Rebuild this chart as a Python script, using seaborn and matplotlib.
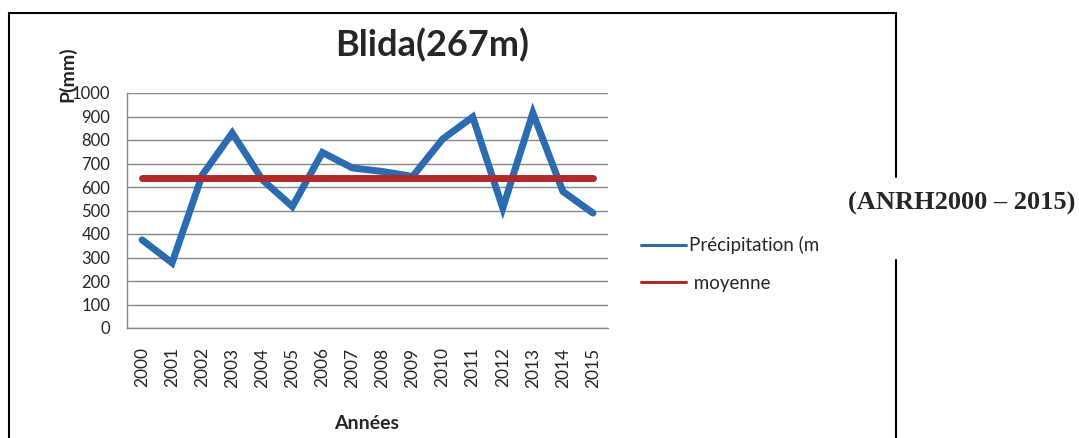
import pandas as pd
import matplotlib
matplotlib.use("Agg")
import matplotlib.pyplot as plt
from matplotlib.lines import Line2D
import seaborn as sns

# données
annees = [str(a) for a in range(2000, 2016)]
precipitation = [375, 277, 650, 830, 631, 517, 747, 681, 666, 645, 804, 898, 510, 915, 581, 489]
moyenne = [638] * 16
yticks = list(range(0, 1001, 100))

df = pd.DataFrame({"Années": annees, "Précipitation": precipitation, "moyenne": moyenne})

sns.set_style("white")
plt.rcParams['font.family'] = ['Lato', 'DejaVu Sans']

W, H = 1079, 438
fig = plt.figure(figsize=(W / 100, H / 100), dpi=100)
ax = fig.add_axes([127 / W, 1 - 328 / H, (608 - 127) / W, (328 - 93) / H])

bleu = '#2b6cb0'
rouge = '#b02a2a'
sns.lineplot(data=df, x="Années", y="Précipitation", ax=ax, color=bleu, lw=5,
             label="Précipitation (m", solid_capstyle='round', solid_joinstyle='miter', sort=False)
sns.lineplot(data=df, x="Années", y="moyenne", ax=ax, color=rouge, lw=5,
             label=" moyenne", solid_capstyle='round', sort=False)

ax.set_xlim(-0.5, 15.5)
ax.set_ylim(0, 1000)
ax.set_yticks(yticks)
ax.set_xticks(range(16))
ax.set_xticklabels(annees, rotation=90, fontsize=12.5)
ax.set_xticks([i - 0.5 for i in range(17)], minor=True)
ax.tick_params(axis='x', which='major', length=0, pad=14)
ax.tick_params(axis='x', which='minor', length=5, color='#888888', width=1)
ax.tick_params(axis='y', length=6, color='#888888', width=1, labelsize=12, pad=6)
ax.grid(axis='y', color='#888888', lw=1)
ax.set_axisbelow(True)
for s in ['top', 'right']:
    ax.spines[s].set_visible(False)
for s in ['left', 'bottom']:
    ax.spines[s].set_color('#888888')
    ax.spines[s].set_linewidth(1)

ax.set_xlabel("Années", fontsize=14, fontweight='bold')
ax.xaxis.set_label_coords(0.499, -0.37)
ax.set_ylabel("P(mm)", fontsize=14, fontweight='bold')
ax.yaxis.set_label_coords(-0.106, 1.08)

fig.text(432 / W, 1 - 45 / H, "Blida(267m)", fontsize=26, fontweight='bold', ha='center', va='center')

leg = ax.legend(loc='center left', bbox_to_anchor=(632 / W, 1 - 264 / H), bbox_transform=fig.transFigure,
                frameon=False, fontsize=13.5, handlelength=2.4, handletextpad=0.15, labelspacing=1.1, borderpad=0)
for l in leg.get_lines():
    l.set_linewidth(2.2)

# cadre
k = dict(color='black', lw=1.5, transform=fig.transFigure)
fig.add_artist(Line2D([9 / W, 896 / W], [1 - 13 / H, 1 - 13 / H], **k))
fig.add_artist(Line2D([9 / W, 9 / W], [1 - 13 / H, 0], **k))
fig.add_artist(Line2D([896 / W, 896 / W], [1 - 13 / H, 1 - 177 / H], **k))
fig.add_artist(Line2D([896 / W, 896 / W], [1 - 260 / H, 0], **k))

fig.text(962 / W, 1 - 203 / H, "(ANRH2000 – 2015)", fontsize=19, fontweight='bold', ha='center', va='center',
         family=['Liberation Serif', 'DejaVu Serif'])

fig.savefig("out.png", dpi=100)
